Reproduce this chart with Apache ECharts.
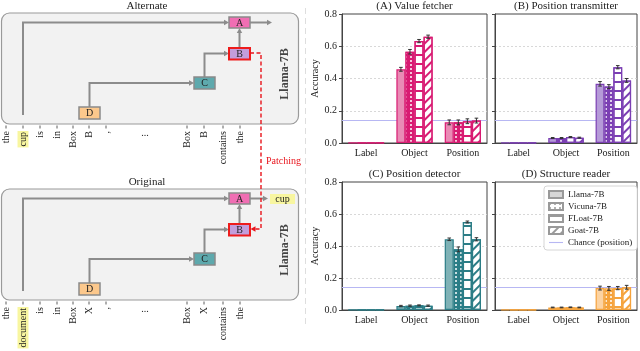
<!DOCTYPE html>
<html>
<head>
<meta charset="utf-8">
<script src="https://cdn.jsdelivr.net/npm/echarts@6/dist/echarts.min.js"></script>
<style>
  html, body { margin: 0; background: #fff; }
  #chart { width: 640px; height: 351px; }
</style>
</head>
<body>
<div id="chart"></div>
<script>
const categories = ['Label', 'Object', 'Position'];
const models = ['Llama-7B', 'Vicuna-7B', 'FLoat-7B', 'Goat-7B'];
const chanceName = 'Chance (position)';
const chance = 1 / 7;

// accuracy, one row per model: [Label, Object, Position]
const valueFetcher = [[0.002, 0.457, 0.128], [0.002, 0.566, 0.128], [0.002, 0.632, 0.135], [0.002, 0.659, 0.139]];
const valueFetcherErr = [[0, 0.012, 0.015], [0, 0.014, 0.015], [0, 0.01, 0.015], [0, 0.01, 0.015]];
const positionTransmitter = [[0.002, 0.031, 0.367], [0.002, 0.031, 0.350], [0.002, 0.037, 0.470], [0.002, 0.033, 0.388]];
const positionTransmitterErr = [[0, 0.003, 0.014], [0, 0.003, 0.012], [0, 0.003, 0.01], [0, 0.003, 0.012]];
const positionDetector = [[0.002, 0.025, 0.442], [0.002, 0.027, 0.379], [0.002, 0.029, 0.550], [0.002, 0.027, 0.442]];
const positionDetectorErr = [[0, 0.004, 0.008], [0, 0.004, 0.015], [0, 0.003, 0.006], [0, 0.004, 0.01]];
const structureReader = [[0.002, 0.016, 0.137], [0.002, 0.016, 0.135], [0.002, 0.017, 0.137], [0.002, 0.016, 0.142]];
const structureReaderErr = [[0, 0.002, 0.012], [0, 0.002, 0.012], [0, 0.002, 0.01], [0, 0.002, 0.012]];

// diagram tokens
const tokenX = [6, 23, 40, 57, 73, 89, 106, 145, 187, 204, 223, 240];
const alternateTokens = ['the', 'cup', 'is', 'in', 'Box', 'B', ',', '...', 'Box', 'B', 'contains', 'the'];
const originalTokens = ['the', 'document', 'is', 'in', 'Box', 'X', ',', '...', 'Box', 'X', 'contains', 'the'];

const SERIF = '"Liberation Serif", "DejaVu Serif", serif';

const panels = [
  { title: '(A) Value fetcher', edge: '#d81b72', fill: '#e98bb5', values: valueFetcher, errs: valueFetcherErr },
  { title: '(B) Position transmitter', edge: '#7b3fb3', fill: '#b59ad8', values: positionTransmitter, errs: positionTransmitterErr },
  { title: '(C) Position detector', edge: '#2b7d86', fill: '#7fb2b6', values: positionDetector, errs: positionDetectorErr },
  { title: '(D) Structure reader', edge: '#f5a33c', fill: '#fcd3a2', values: structureReader, errs: structureReaderErr }
];

const grids = [
  { left: 342, top: 14, width: 145, height: 129 },
  { left: 495, top: 14, width: 142, height: 129 },
  { left: 342, top: 182, width: 145, height: 128 },
  { left: 495, top: 182, width: 142, height: 128 },
  { left: -300, top: -300, width: 10, height: 10 }  // legend-only series live here
];

const GROUP = 0.75; // share of a category band taken by the 4 bars

function decalFor(m, color) {
  if (m === 1) return { symbol: 'circle', symbolSize: 1, color: color, dashArrayX: [1.8, 2.4], dashArrayY: [1.8, 2] };
  if (m === 2) return { symbol: 'rect', symbolSize: 1, color: color, dashArrayX: [1, 0], dashArrayY: [1.2, 6.8] };
  if (m === 3) return { symbol: 'rect', symbolSize: 1, color: color, dashArrayX: [1, 0], dashArrayY: [1.1, 3.2], rotation: -Math.PI / 4 };
  return null;
}

function barStyle(m, edge, fill) {
  const s = { borderColor: edge, borderWidth: 1.2 };
  if (m === 0) s.color = fill;
  else if (m === 1) { s.color = edge; s.decal = decalFor(1, '#fff'); }
  else { s.color = '#fff'; s.decal = decalFor(m, edge); }
  return s;
}

const series = [];
panels.forEach((p, i) => {
  models.forEach((name, m) => {
    const s = {
      type: 'bar',
      name: name + ' ' + i,
      xAxisIndex: i,
      yAxisIndex: i,
      data: p.values[m],
      barGap: '0%',
      barCategoryGap: (1 - GROUP) * 100 + '%',
      itemStyle: barStyle(m, p.edge, p.fill),
      z: 3,
      silent: true
    };
    if (m === 0) {
      s.markLine = {
        silent: true, symbol: 'none', z: 1,
        label: { show: false },
        lineStyle: { color: '#b7b7f3', width: 1.2, type: 'solid' },
        data: [{ yAxis: chance }]
      };
    }
    series.push(s);
  });
  const errData = [];
  models.forEach((name, m) => {
    categories.forEach((c, k) => {
      if (p.errs[m][k] > 0) errData.push([k, m, p.values[m][k], p.errs[m][k]]);
    });
  });
  series.push({
    type: 'custom',
    xAxisIndex: i,
    yAxisIndex: i,
    data: errData,
    encode: { x: 0, y: 2 },
    z: 5,
    silent: true,
    renderItem: (params, api) => {
      const k = api.value(0), m = api.value(1), v = api.value(2), e = api.value(3);
      const band = api.size([1, 0])[0];
      const gw = band * GROUP, bw = gw / 4;
      const x = api.coord([k, v])[0] - gw / 2 + bw * (m + 0.5);
      const yt = api.coord([k, v + e])[1], yb = api.coord([k, v - e])[1];
      const st = { stroke: '#333', lineWidth: 1 };
      return {
        type: 'group',
        children: [
          { type: 'line', shape: { x1: x, y1: yt, x2: x, y2: yb }, style: st },
          { type: 'line', shape: { x1: x - 1.8, y1: yt, x2: x + 1.8, y2: yt }, style: st },
          { type: 'line', shape: { x1: x - 1.8, y1: yb, x2: x + 1.8, y2: yb }, style: st }
        ]
      };
    }
  });
});

// legend entries (gray), drawn on the hidden grid
const legendFill = ['#d6d6d6', '#fff', '#fff', '#fff'];
models.forEach((name, m) => {
  series.push({
    type: 'bar', name: name, xAxisIndex: 4, yAxisIndex: 4, data: [],
    itemStyle: { color: legendFill[m], borderColor: '#999', borderWidth: 1, decal: decalFor(m, '#999') }
  });
});
series.push({
  type: 'bar', name: chanceName, xAxisIndex: 4, yAxisIndex: 4, data: [],
  itemStyle: { color: '#b7b7f3' }
});

const xAxes = grids.map((g, i) => ({
  gridIndex: i,
  type: 'category',
  show: i < 4,
  data: categories,
  axisLine: { lineStyle: { color: '#444' } },
  axisTick: { alignWithLabel: true, length: 3, lineStyle: { color: '#444' } },
  axisLabel: { fontFamily: SERIF, fontSize: 10, color: '#222', margin: 5 }
}));

const yAxes = grids.map((g, i) => ({
  gridIndex: i,
  type: 'value',
  show: i < 4,
  min: 0,
  max: 0.8,
  interval: 0.2,
  name: (i === 0 || i === 2) ? 'Accuracy' : '',
  nameLocation: 'middle',
  nameGap: 18,
  nameTextStyle: { fontFamily: SERIF, fontSize: 10, color: '#222' },
  axisLine: { show: true, lineStyle: { color: '#444' } },
  axisTick: { show: true, length: 3, lineStyle: { color: '#444' } },
  axisLabel: { show: i === 0 || i === 2, formatter: v => v.toFixed(1), fontFamily: SERIF, fontSize: 10, color: '#222', margin: 5 },
  splitLine: { show: true, showMinLine: false, showMaxLine: false, lineStyle: { color: '#cfcfcf', type: [2, 2], width: 0.8 } }
}));

// ---- left diagram (graphic elements) ----
const G = [];
function txt(x, y, s, style, rotation) {
  G.push({
    type: 'text', x: x, y: y, rotation: rotation || 0, silent: true,
    style: Object.assign({ text: s, fontFamily: SERIF, fontSize: 10, fill: '#222', align: 'center', verticalAlign: 'middle' }, style || {})
  });
}
function arrow(pts, color, dash) {
  const n = pts.length;
  const [x1, y1] = pts[n - 2], [x2, y2] = pts[n - 1];
  const len = Math.hypot(x2 - x1, y2 - y1), dx = (x2 - x1) / len, dy = (y2 - y1) / len;
  const L = 5, W = 2.7;
  const line = pts.slice(0, n - 1).concat([[x2 - dx * L * 0.7, y2 - dy * L * 0.7]]);
  G.push({ type: 'polyline', silent: true, shape: { points: line },
    style: { stroke: color, fill: 'none', lineWidth: dash ? 1.4 : 2, lineDash: dash ? [4, 2.5] : null } });
  G.push({ type: 'polygon', silent: true,
    shape: { points: [[x2, y2], [x2 - dx * L - dy * W, y2 - dy * L + dx * W], [x2 - dx * L + dy * W, y2 - dy * L - dx * W]] },
    style: { fill: color } });
}
function node(x, y, w, h, label, fill, stroke, lw) {
  G.push({ type: 'rect', silent: true, shape: { x: x, y: y, width: w, height: h },
    style: { fill: fill, stroke: stroke || '#8a8a8a', lineWidth: lw || 1.5 } });
  txt(x + w / 2, y + h / 2 + 0.5, label, { fontSize: 10 });
}
function diagram(dy, title, tokens, hi, output) {
  const gray = '#8c8c8c';
  txt(147, 6 + dy, title, { fontSize: 11 });
  G.push({ type: 'rect', silent: true, shape: { x: 1.5, y: 13 + dy, width: 297, height: 111, r: 8 },
    style: { fill: '#f2f2f2', stroke: '#9a9a9a', lineWidth: 1.2 } });
  arrow([[23, 115 + dy], [23, 22.5 + dy], [229, 22.5 + dy]], gray);
  arrow([[250, 22.5 + dy], [output ? 268 : 272, 22.5 + dy]], gray);
  arrow([[239.5, 48 + dy], [239.5, 28 + dy]], gray);
  arrow([[204.5, 77 + dy], [204.5, 53.5 + dy], [229, 53.5 + dy]], gray);
  arrow([[89.5, 107 + dy], [89.5, 83 + dy], [194, 83 + dy]], gray);
  node(229, 17 + dy, 21, 11, 'A', '#f06eb3');
  node(229, 48 + dy, 21, 11.5, 'B', '#c39ddb', '#ee1c1c', 2);
  node(194, 77 + dy, 21, 12, 'C', '#5ea9ad');
  node(79, 107 + dy, 21, 12, 'D', '#fcc88c');
  if (output) {
    G.push({ type: 'rect', silent: true, shape: { x: 270, y: 18 + dy, width: 25, height: 10 }, style: { fill: '#f8f6a0' } });
    txt(282.5, 23.5 + dy, output, { fontSize: 10 });
  }
  txt(285, 74 + dy, 'Llama-7B', { fontSize: 12, fontWeight: 'bold', fill: '#444' }, Math.PI / 2);
  tokens.forEach((t, k) => {
    const x = tokenX[k];
    if (t === '...') { txt(x, 133 + dy, t, { fontSize: 10 }); return; }
    G.push({ type: 'line', silent: true, shape: { x1: x, y1: 125.5 + dy, x2: x, y2: 128.5 + dy }, style: { stroke: '#333', lineWidth: 0.8 } });
    const st = { fontSize: 10, align: 'right' };
    if (k === hi) { st.backgroundColor = '#f8f6a0'; st.padding = [1, 1, 0, 1]; }
    txt(x, 131 + dy, t, st, Math.PI / 2);
  });
}
diagram(0, 'Alternate', alternateTokens, 1, null);
diagram(176, 'Original', originalTokens, 1, 'cup');
// patching connection
arrow([[250, 53], [261, 53], [261, 229], [250.5, 229]], '#e8141c', true);
txt(266, 161, 'Patching', { fill: '#e8141c', align: 'left', fontSize: 10 });
// faint separator
G.push({ type: 'line', silent: true, shape: { x1: 305.5, y1: 8, x2: 305.5, y2: 325 }, style: { stroke: '#dedede', lineWidth: 1, lineDash: [6, 4] } });
// panel titles
panels.forEach((p, i) => {
  const g = grids[i];
  txt(g.left + g.width / 2, g.top - 8, p.title, { fontSize: 11 });
});

const chart = echarts.init(document.getElementById('chart'), null, { renderer: 'canvas' });
chart.setOption({
  animation: false,
  backgroundColor: '#fff',
  grid: grids.map((g, i) => Object.assign({ show: i < 4, borderColor: '#444', borderWidth: 1, backgroundColor: 'transparent' }, g)),
  xAxis: xAxes,
  yAxis: yAxes,
  legend: {
    left: 544,
    top: 186,
    orient: 'vertical',
    selectedMode: false,
    itemWidth: 14,
    itemHeight: 7,
    itemGap: 3,
    padding: [4, 5, 3, 4],
    backgroundColor: '#fff',
    borderColor: '#cccccc',
    borderWidth: 0.8,
    borderRadius: 3,
    textStyle: { fontFamily: SERIF, fontSize: 9, color: '#222' },
    data: models.map(n => ({ name: n, icon: 'rect' })).concat([{ name: chanceName, icon: 'path://M0,0 H20 V1.6 H0 Z' }])
  },
  graphic: G,
  series: series
});
window.addEventListener('resize', () => chart.resize());
</script>
</body>
</html>
